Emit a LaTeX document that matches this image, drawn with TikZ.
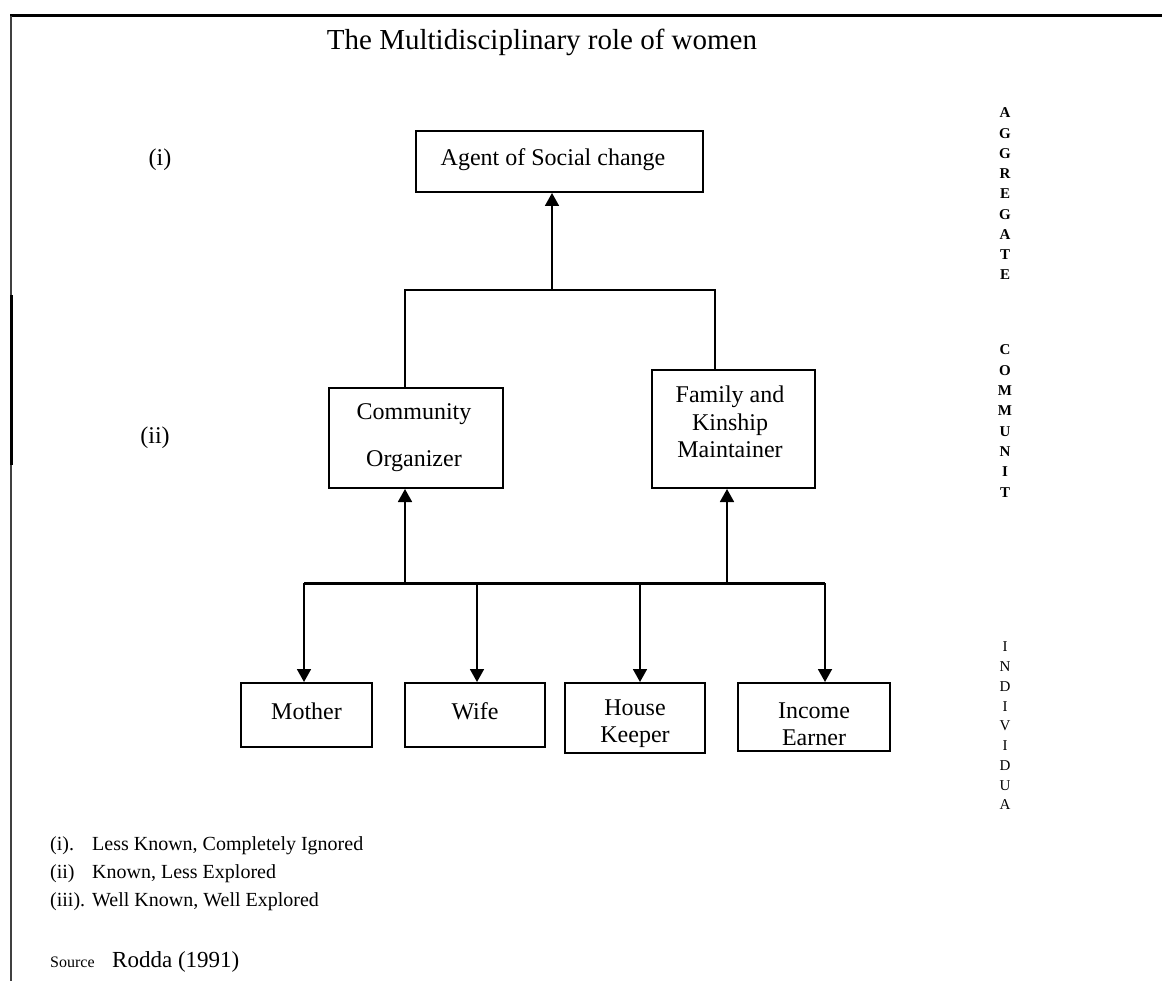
\documentclass[tikz,border=0pt]{standalone}
\usepackage{fontspec}
\setmainfont{Liberation Serif}
\usetikzlibrary{arrows.meta}
\begin{document}
\begin{tikzpicture}[x=1pt,y=-1pt,
  box/.style={draw, line width=2pt, inner sep=0pt},
  txt/.style={align=center, inner sep=0pt, font=\fontsize{24}{27}\selectfont},
  link/.style={line width=1.8pt},
  tip/.style={-{Triangle[width=14pt,length=13pt]}, line width=1.8pt},
  lvl/.style={font=\fontsize{24}{28}\selectfont},
  side/.style={align=center, inner sep=0pt},
  legend/.style={anchor=base west, inner sep=0pt, font=\fontsize{20}{24}\selectfont}]

\useasboundingbox (0,0) rectangle (1162,981);

% page frame
\draw[line width=3pt] (10,16) -- (1162,16);
\draw[line width=2pt, black!75] (11,16) -- (11,981);
\draw[line width=3pt] (11,295) -- (11,465);

% title
\node[font=\fontsize{29}{34}\selectfont] (title) at (542,42) {The Multidisciplinary role of women};

% level markers
\node[lvl] (lvlone) at (160,160) {(i)};
\node[lvl] (lvltwo) at (155,438) {(ii)};

% boxes
\node[box, minimum width=287pt, minimum height=61pt] (agent) at (559.5,161.5) {};
\node[txt] (agentT) at (553,160) {Agent of Social change};
\node[box, minimum width=174pt, minimum height=100pt] (comm) at (416,438) {};
\node[txt] (commT) at (414,438) {Community\\[20pt]Organizer};
\node[box, minimum width=163pt, minimum height=118pt] (fam) at (733.5,429) {};
\node[txt, font=\fontsize{24}{27.5}\selectfont] (famT) at (730,422) {Family and\\Kinship\\Maintainer};

\node[box, minimum width=131pt, minimum height=64pt] (mother) at (306.5,715) {};
\node[txt] (motherT) at (306.5,711) {Mother};
\node[box, minimum width=140pt, minimum height=64pt] (wife) at (475,715) {};
\node[txt] (wifeT) at (475,711) {Wife};
\node[box, minimum width=140pt, minimum height=70pt] (house) at (635,718) {};
\node[txt] (houseT) at (635,724) {House\\Keeper};
\node[box, minimum width=152pt, minimum height=68pt] (income) at (814,717) {};
\node[txt] (incomeT) at (814,724) {Income\\Earner};

% upper junction
\coordinate (tL) at (405,290);
\coordinate (tR) at (715,290);
\coordinate (tM) at (552,290);
\draw[link] (tL |- comm.north) -- (tL) -- (tR) -- (tR |- fam.north);
\draw[tip] (tM) -- (tM |- agent.south);

% lower junction
\coordinate (bL) at (304,583);
\coordinate (bR) at (825,583);
\draw[line width=3pt] (bL) -- (bR);
\coordinate (uC) at (405,583);
\coordinate (uF) at (727,583);
\draw[tip] (uC) -- (uC |- comm.south);
\draw[tip] (uF) -- (uF |- fam.south);

\coordinate (dM) at (304,583);
\coordinate (dW) at (477,583);
\coordinate (dH) at (640,583);
\coordinate (dI) at (825,583);
\draw[tip] (dM) -- (dM |- mother.north);
\draw[tip] (dW) -- (dW |- wife.north);
\draw[tip] (dH) -- (dH |- house.north);
\draw[tip] (dI) -- (dI |- income.north);

% side captions
\node[side, font=\fontsize{15}{20.25}\selectfont\bfseries] (agg) at (1005,194) {A\\G\\G\\R\\E\\G\\A\\T\\E};
\node[side, font=\fontsize{15}{20.3}\selectfont\bfseries] (com) at (1005,421) {C\\O\\M\\M\\U\\N\\I\\T};
\node[side, font=\fontsize{15}{19.75}\selectfont] (ind) at (1005,726) {I\\N\\D\\I\\V\\I\\D\\U\\A};

% legend
\node[legend] (k1) at (50,850) {(i).};
\node[legend] (t1) at (92,850) {Less Known, Completely Ignored};
\node[legend] (k2) at (50,878) {(ii)};
\node[legend] (t2) at (92,878) {Known, Less Explored};
\node[legend] (k3) at (50,906) {(iii).};
\node[legend] (t3) at (92,906) {Well Known, Well Explored};

\node[legend, font=\fontsize{16}{18}\selectfont] (src) at (50,967) {Source};
\node[legend, font=\fontsize{23}{26}\selectfont] (ref) at (112,967) {Rodda (1991)};
\end{tikzpicture}
\end{document}
